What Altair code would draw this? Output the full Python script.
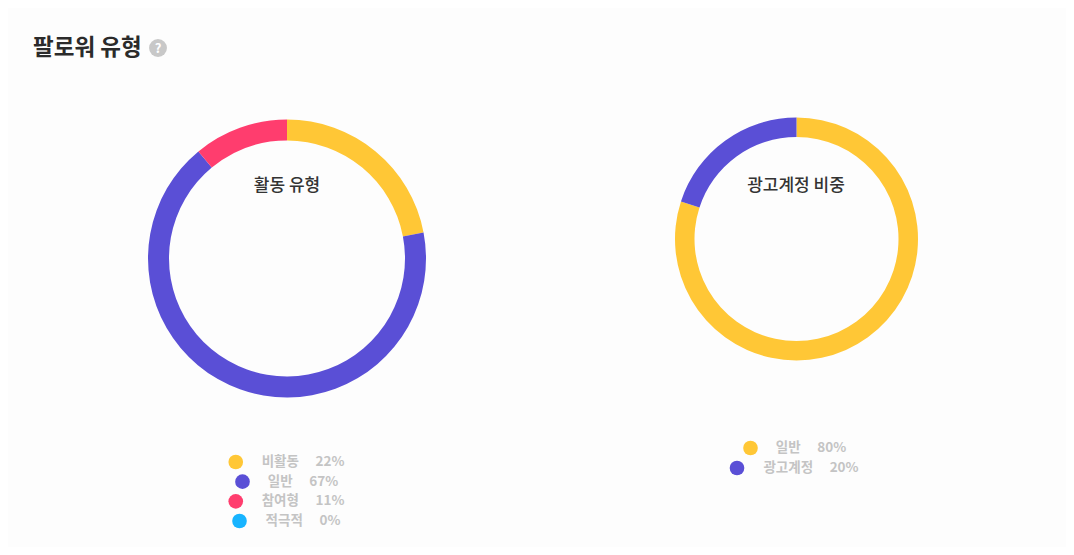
import altair as alt
import pandas as pd

# ---- data ----
title_text = "팔로워 유형"
activity_title = "활동 유형"
activity_labels = ["비활동", "일반", "참여형", "적극적"]
activity_pct = [22, 67, 11, 0]
activity_colors = ["#FFC736", "#5A4FD6", "#FF3D6E", "#18B4FF"]

ad_title = "광고계정 비중"
ad_labels = ["일반", "광고계정"]
ad_pct = [80, 20]
ad_colors = ["#FFC736", "#5A4FD6"]

FONT = "Noto Sans CJK KR"

act_df = pd.DataFrame({"i": list(range(len(activity_labels))),
                       "label": activity_labels, "pct": activity_pct})
ad_df = pd.DataFrame({"i": list(range(len(ad_labels))),
                      "label": ad_labels, "pct": ad_pct})


def donut(df, labels, colors, cx, cy, r_out, r_in):
    return alt.Chart(df).mark_arc(radius=r_out, radius2=r_in).encode(
        theta=alt.Theta("pct:Q", stack=True),
        order=alt.Order("i:Q"),
        color=alt.Color("label:N", scale=alt.Scale(domain=labels, range=colors), legend=None),
        x=alt.value(cx), y=alt.value(cy),
    )


def legend(df, labels, colors, tx, y0, y1):
    n = len(labels)
    yenc = alt.Y("i:Q", axis=None, scale=alt.Scale(domain=[0, n - 1], range=[y0, y1]))
    base = alt.Chart(df).transform_calculate(
        txt="datum.label + '\u2003\u00a0' + datum.pct + '%'",
        mx=f"{tx} - (13.5*length(datum.label) + 7.5*length(toString(datum.pct)) + 29)/2 - 25",
    )
    dots = base.mark_circle(size=215, opacity=1).encode(
        x=alt.X("mx:Q", scale=None, axis=None),
        y=yenc,
        color=alt.Color("label:N", scale=alt.Scale(domain=labels, range=colors), legend=None),
    )
    texts = base.mark_text(font=FONT, fontSize=13.5, fontWeight="bold", color="#c4c4c4",
                           align="center", baseline="middle").encode(
        x=alt.value(tx), y=yenc, text="txt:N")
    return [dots, texts]


def label(txt, x, y, **kw):
    return alt.Chart(pd.DataFrame({"t": [txt]})).mark_text(font=FONT, **kw).encode(
        x=alt.value(x), y=alt.value(y), text="t:N")


layers = [
    label(title_text, 25, 40, fontSize=22.5, fontWeight="bold", color="#2b2b2b",
          align="left", baseline="middle"),
    alt.Chart(pd.DataFrame({"t": ["?"]})).mark_circle(size=320, color="#c8c8c8", opacity=1).encode(
        x=alt.value(150), y=alt.value(40)),
    label("?", 150, 41, fontSize=13, fontWeight="bold", color="#ffffff",
          align="center", baseline="middle"),
    donut(act_df, activity_labels, activity_colors, 279, 250.5, 139, 118),
    label(activity_title, 279, 178, fontSize=17, fontWeight=500, color="#333333",
          align="center", baseline="middle"),
    donut(ad_df, ad_labels, ad_colors, 788.5, 231, 121.5, 102),
    label(ad_title, 788, 178, fontSize=17, fontWeight=500, color="#333333",
          align="center", baseline="middle"),
]
layers += legend(act_df, activity_labels, activity_colors, 295, 454, 513)
layers += legend(ad_df, ad_labels, ad_colors, 803, 440, 460)

chart = alt.layer(*layers).resolve_scale(
    x="independent", y="independent", color="independent", theta="independent"
).properties(
    width=1058, height=539, padding=0, autosize="none", background="#fdfdfd"
).configure_view(stroke=None)

chart.save("out.html", embed_options={"renderer": "svg", "actions": False})
